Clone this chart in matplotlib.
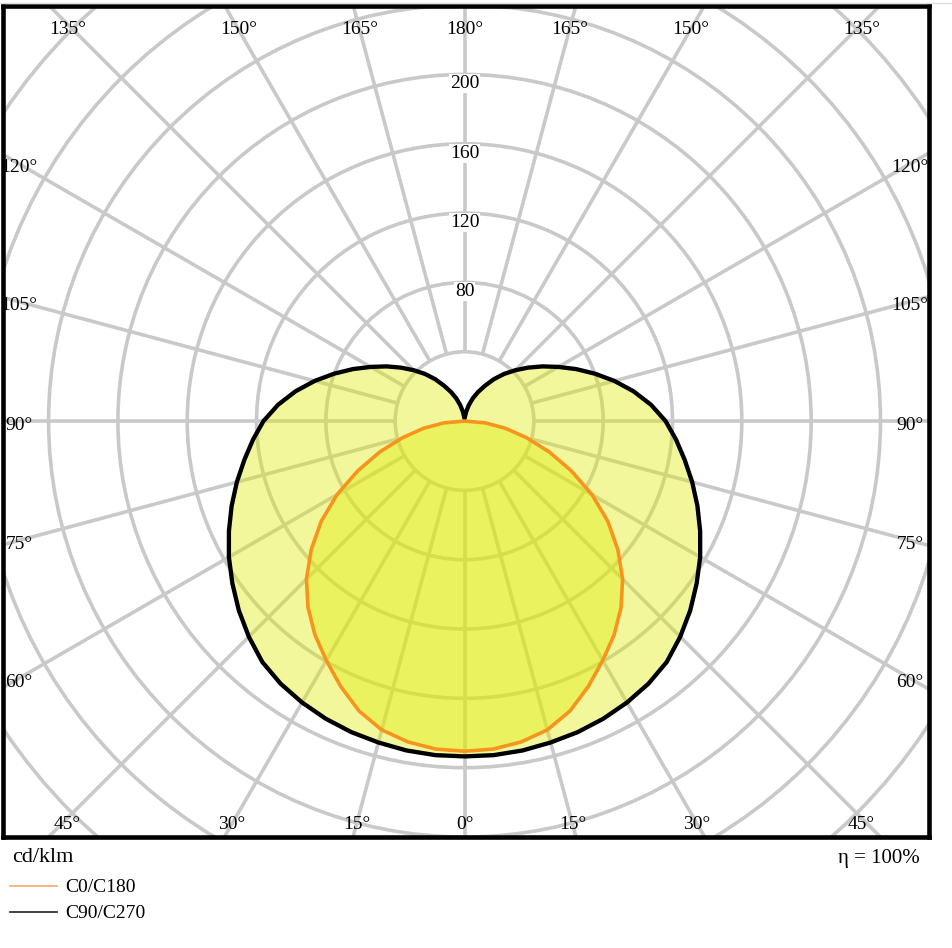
import numpy as np
import matplotlib
matplotlib.use("Agg")
import matplotlib.pyplot as plt
from matplotlib.patches import Circle, Polygon
from matplotlib.lines import Line2D

plt.rcParams['font.family'] = ['Liberation Serif', 'DejaVu Serif']

# --- data: luminous intensity in cd/klm, gamma angle in degrees ---
gamma = np.arange(0, 185, 5)
c90_c270 = [193.5, 193.5, 193, 192, 191, 189.5, 187.5, 185, 181.5, 176,
            170, 163.5, 157, 150, 143, 136, 129, 122.5, 116, 108,
            99, 89.5, 80, 71, 62.5, 55, 48, 41.5, 35.5, 29.5,
            23.5, 18.5, 14, 9.5, 5.5, 2.5, 1.5]
c0_c180 = [190.5, 190, 188, 184.5, 178, 169, 159.5, 150.5, 140.5, 129,
           115.5, 101, 85, 68, 52, 37, 24, 12, 0, 0,
           0, 0, 0, 0, 0, 0, 0, 0, 0, 0,
           0, 0, 0, 0, 0, 0, 0]
ring_values = [40, 80, 120, 160, 200, 240, 280, 320, 360, 400, 440]
ring_labels = [80, 120, 160, 200]
angle_labels = [0, 15, 30, 45, 60, 75, 90, 105, 120, 135, 150, 165, 180]
series_names = ["C0/C180", "C90/C270"]
unit_text = "cd/klm"
eta_text = "η = 100%"


def outline(values):
    # right half goes 0 -> 180, left half mirrors back 180 -> 0
    t = np.radians(gamma)
    v = np.asarray(values, dtype=float)
    xr, yr = v * np.sin(t), -v * np.cos(t)
    x = np.concatenate([xr, -xr[::-1]])
    y = np.concatenate([yr, yr[::-1]])
    return np.column_stack([x, y])


W, H = 953, 948
fig = plt.figure(figsize=(W / 100, H / 100), dpi=100)
ax = fig.add_axes([3 / W, 1 - 837 / H, 926 / W, 831 / H])
ax.set_xlim(-266.3, 268.0)
ax.set_ylim(-240.0, 239.5)
ax.set_aspect('auto')
ax.set_xticks([])
ax.set_yticks([])
for s in ax.spines.values():
    s.set_linewidth(3.3)
    s.set_color('black')
    s.set_zorder(10)

grid_col = '#c9c9c9'
# rings
for r in ring_values:
    ax.add_patch(Circle((0, 0), r, fill=False, ec=grid_col, lw=2.6, zorder=1))
# spokes every 15 degrees, starting on the 40 ring
for a in range(0, 360, 15):
    t = np.radians(a)
    ax.plot([40 * np.sin(t), 500 * np.sin(t)], [-40 * np.cos(t), -500 * np.cos(t)],
            color=grid_col, lw=2.6, zorder=1, solid_capstyle='butt')

# fills and outlines
fill_col = (224 / 255, 235 / 255, 0)
for vals, col, lw in [(c90_c270, 'black', 3.1), (c0_c180, '#f7941d', 2.6)]:
    pts = outline(vals)
    ax.add_patch(Polygon(pts, closed=True, fc=fill_col, ec='none', alpha=0.39, zorder=2))
    ax.add_patch(Polygon(pts, closed=True, fill=False, ec=col, lw=lw, zorder=3,
                         joinstyle='round'))

# ring value labels
for v in ring_labels:
    ax.text(0, v - 0.5, str(v), ha='center', va='top', fontsize=14, zorder=4,
            bbox=dict(boxstyle='square,pad=0.05', fc='white', ec='none'))

# angle labels around the frame
side_x, top_y, bot_y = 257.0, 226.0, -232.5
for a in angle_labels:
    t = np.radians(a)
    sx, cy = np.sin(t), -np.cos(t)
    cands = []
    if sx > 1e-9:
        cands.append((side_x / sx, 'side'))
    if cy > 1e-9:
        cands.append((top_y / cy, 'top'))
    if cy < -1e-9:
        cands.append((-bot_y / -cy, 'bot'))
    d, where = min(cands)
    px, py = d * sx, d * cy
    if where == 'side':
        py -= 2.3
    if a in (45, 135):
        px = 229.0
    for sgn in ([1] if a in (0, 180) else [1, -1]):
        ax.text(sgn * px, py, f"{a}°", ha='center', va='center', fontsize=14,
                zorder=4, clip_on=True)

# texts under the diagram
fig.text(12 / W, 1 - 858 / H, unit_text, ha='left', va='center', fontsize=16)
fig.text(920 / W, 1 - 858 / H, eta_text, ha='right', va='center', fontsize=15)
leg_cols = ['#f4b07a', '#333333']
leg_y = [886, 912]
for name, col, yy in zip(series_names, leg_cols, leg_y):
    fig.add_artist(Line2D([10 / W, 57 / W], [1 - yy / H] * 2, color=col, lw=1.3))
    fig.text(65 / W, 1 - (yy + 1) / H, name, ha='left', va='center', fontsize=14)

# thin grey line at the very top edge
fig.add_artist(Line2D([0, 1], [1 - 2.5 / H] * 2, color='#dddddd', lw=1))

fig.savefig('out.png', dpi=100)
